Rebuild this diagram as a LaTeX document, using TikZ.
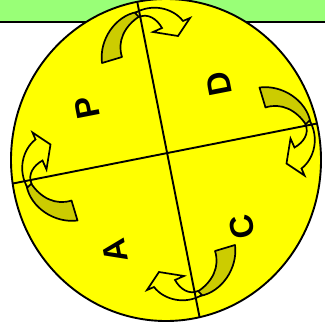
\documentclass[tikz,border=0pt]{standalone}
\usepackage{fontspec}
\setmainfont{Liberation Sans}
\begin{document}
\begin{tikzpicture}[x=1pt,y=-1pt,
  edge/.style={line width=1.9pt,black},
  tailpart/.style={fill=olivetail,draw=black,line width=1.7pt,line join=round},
  headpart/.style={fill=discyellow,draw=black,line width=1.7pt,line join=miter},
  letter/.style={font=\fontsize{33}{33}\selectfont\bfseries,rotate=101,inner sep=0pt}]
\definecolor{bandgreen}{RGB}{153,255,119}
\definecolor{olivetail}{RGB}{204,204,0}
\definecolor{discyellow}{RGB}{255,255,0}
\useasboundingbox (0,0) rectangle (325,331);
% green band
\fill[bandgreen] (0,0) rectangle (325,22);
\draw[edge] (0,22) -- (325,22);
% disc
\fill[discyellow] (166,160) ellipse [x radius=155, y radius=161];
% arrows
\newcommand{\curvedarrow}{%
  \path[tailpart] (102,63) .. controls (99,40) and (115,16) .. (137,12)
     -- (140,16) .. controls (124,26) and (117,42) .. (122,57) -- cycle;
  \path[headpart] (135,13) .. controls (152,3) and (173,8) .. (183,21)
     -- (190,18) -- (178,36) -- (153,32) -- (162,28)
     .. controls (157,19) and (148,13) .. (139,17) -- cycle;}
\begin{scope}\curvedarrow\end{scope}
\begin{scope}[rotate around={-90:(168.5,154)}]\curvedarrow\end{scope}
\begin{scope}[rotate around={-180:(168.5,154)}]\curvedarrow\end{scope}
\begin{scope}[rotate around={-270:(168.5,154)}]\curvedarrow\end{scope}
% cross lines
\begin{scope}
  \clip (166,160) ellipse [x radius=155, y radius=161];
  \coordinate (vt) at (127,-50);
  \coordinate (vb) at (210,370);
  \coordinate (hl) at (-20,190);
  \coordinate (hr) at (350,117);
  \draw[edge] (vt) -- (vb);
  \draw[edge] (hl) -- (hr);
\end{scope}
\draw[edge] (166,160) ellipse [x radius=155, y radius=161];
% letters
\node[letter] (p) at (87,108) {P};
\node[letter] (d) at (219,84) {D};
\node[letter] (c) at (242,227) {C};
\node[letter] (a) at (115,251) {A};
\end{tikzpicture}
\end{document}
